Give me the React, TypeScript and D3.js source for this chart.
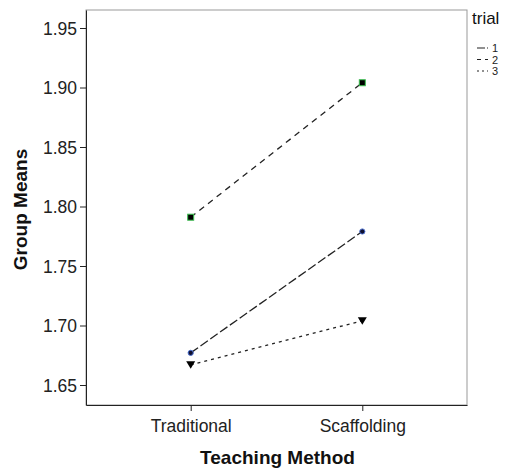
import React, { useEffect, useRef } from 'react'
import * as d3 from 'd3'

const methods = ['Traditional', 'Scaffolding']
const trials = ['1', '2', '3']
const trial1 = [1.677, 1.779]
const trial2 = [1.791, 1.904]
const trial3 = [1.667, 1.704]
const yTicks = [1.65, 1.7, 1.75, 1.8, 1.85, 1.9, 1.95]

const seriesValues = [trial1, trial2, trial3]
const dashes = ['9,3', '6,5', '3,4']

const App = () => {
  const svgRef = useRef<SVGSVGElement>(null)

  useEffect(() => {
    const width = 506
    const height = 468
    const margin = { top: 10, right: 39, bottom: 63, left: 86 }
    const font = 'Arial, "Liberation Sans", sans-serif'

    const svg = d3.select(svgRef.current).attr('width', width).attr('height', height)
    svg.selectAll('*').remove()

    const x = d3
      .scalePoint()
      .domain(methods)
      .range([margin.left, width - margin.right])
      .padding(0.61)

    const y = d3
      .scaleLinear()
      .domain([1.65 - 20 / 1190, 1.95 + 18 / 1190])
      .range([height - margin.bottom, margin.top])

    // frame
    svg
      .append('rect')
      .attr('x', margin.left)
      .attr('y', margin.top)
      .attr('width', width - margin.left - margin.right)
      .attr('height', height - margin.top - margin.bottom)
      .attr('fill', 'none')
      .attr('stroke', '#999')
      .attr('stroke-width', 1)

    const yAxis = svg
      .append('g')
      .attr('transform', `translate(${margin.left},0)`)
      .call(d3.axisLeft(y).tickValues(yTicks).tickFormat(d3.format('.2f')).tickSize(6).tickSizeOuter(0))
    yAxis.select('.domain').attr('stroke', '#222')
    yAxis.selectAll('text').style('font-size', '17.5px').style('font-family', font).attr('fill', '#222').attr('dx', '0').attr('dy', '0.36em')
    yAxis.selectAll('line').attr('stroke', '#222')

    const xAxis = svg
      .append('g')
      .attr('transform', `translate(0,${height - margin.bottom})`)
      .call(d3.axisBottom(x).tickSize(6).tickSizeOuter(0))
    xAxis.select('.domain').attr('stroke', '#222')
    xAxis.selectAll('text').style('font-size', '17.5px').style('font-family', font).attr('fill', '#222').attr('dy', '1.05em')
    xAxis.selectAll('line').attr('stroke', '#222')

    svg
      .append('text')
      .attr('x', (margin.left + width - margin.right) / 2 + 1)
      .attr('y', 464)
      .attr('text-anchor', 'middle')
      .style('font-family', font)
      .style('font-size', '19px')
      .style('font-weight', 'bold')
      .attr('fill', '#111')
      .text('Teaching Method')

    svg
      .append('text')
      .attr('transform', `translate(27,${(margin.top + height - margin.bottom) / 2 + 2}) rotate(-90)`)
      .attr('text-anchor', 'middle')
      .style('font-family', font)
      .style('font-size', '19px')
      .style('font-weight', 'bold')
      .attr('fill', '#111')
      .text('Group Means')

    const line = d3
      .line<number>()
      .x((d, i) => x(methods[i]) as number)
      .y((d) => y(d))

    seriesValues.forEach((vals, s) => {
      svg
        .append('path')
        .datum(vals)
        .attr('d', line)
        .attr('fill', 'none')
        .attr('stroke', '#222')
        .attr('stroke-width', 1.3)
        .attr('stroke-dasharray', dashes[s])
    })

    // markers
    trial1.forEach((v, i) => {
      svg
        .append('circle')
        .attr('cx', x(methods[i]) as number)
        .attr('cy', y(v))
        .attr('r', 2.6)
        .attr('fill', '#101030')
        .attr('stroke', '#4a6fd0')
        .attr('stroke-width', 1)
    })
    trial2.forEach((v, i) => {
      svg
        .append('rect')
        .attr('x', (x(methods[i]) as number) - 3)
        .attr('y', y(v) - 3)
        .attr('width', 6)
        .attr('height', 6)
        .attr('fill', '#000')
        .attr('stroke', '#3cbf50')
        .attr('stroke-width', 1)
    })
    trial3.forEach((v, i) => {
      const cx = x(methods[i]) as number
      const cy = y(v)
      svg
        .append('path')
        .attr('d', `M${cx - 4.5},${cy - 3.5}L${cx + 4.5},${cy - 3.5}L${cx},${cy + 4}Z`)
        .attr('fill', '#000')
    })

    // legend
    const lg = svg.append('g').attr('transform', 'translate(472,0)')
    lg.append('text')
      .attr('x', 0)
      .attr('y', 24)
      .style('font-family', font)
      .style('font-size', '17px')
      .attr('fill', '#111')
      .text('trial')
    trials.forEach((t, i) => {
      const yy = 48 + i * 11.5
      lg.append('line')
        .attr('x1', 5)
        .attr('x2', 16)
        .attr('y1', yy)
        .attr('y2', yy)
        .attr('stroke', '#222')
        .attr('stroke-width', 1.2)
        .attr('stroke-dasharray', i === 0 ? '8,2' : i === 1 ? '4,4' : '2,3')
      lg.append('text')
        .attr('x', 20)
        .attr('y', yy + 4)
        .style('font-family', font)
        .style('font-size', '11px')
        .attr('fill', '#222')
        .text(t)
    })
  }, [])

  return <svg ref={svgRef} style={{ position: 'absolute', left: 0, top: 0 }}></svg>
}

export default App
